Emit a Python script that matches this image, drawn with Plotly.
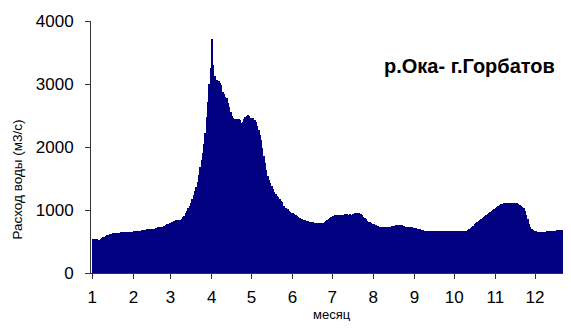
import plotly.graph_objects as go

# Daily discharge (m3/s), one list per month
jan = [540,540,540,540,530,530,540,555,570,570,580,600,610,620,625,630,633,633,635,635,
       640,643,643,645,645,645,648,650,652,655,658]
feb = [660,660,663,665,670,672,676,681,685,690,695,700,702,702,705,705,705,720,723,723,
       725,725,728,750,768,775,785,792]
mar = [800,810,820,830,834,836,838,845,865,885,910,945,990,1030,1060,1110,1170,1240,1300,1370,
       1440,1560,1690,1800,1900,2050,2220,2480,2720,3000,3250]
apr = [3720,3300,3120,3070,3060,3050,3020,2985,2880,2840,2800,2770,2700,2630,2560,2500,2455,2440,2440,2440,
       2440,2430,2380,2400,2450,2480,2500,2510,2490,2460]
may = [2455,2455,2430,2400,2330,2270,2190,2110,1980,1850,1740,1640,1540,1480,1430,1380,1330,1280,1250,1225,
       1205,1180,1150,1120,1070,1035,1030,1010,990,975,960]
jun = [945,930,920,905,890,875,865,855,845,835,828,820,812,805,802,802,800,800,800,800,
       795,790,786,795,810,830,845,860,871,890]
jul = [905,910,915,920,923,925,925,928,928,930,925,930,928,930,928,935,940,948,950,950,
       945,935,915,890,870,850,830,815,802,790,778]
aug = [770,765,755,745,735,728,728,728,726,728,728,730,730,735,740,745,749,755,760,765,
       765,760,752,745,738,735,732,730,725,723,720]
sep = [715,710,705,702,695,685,675,670,670,668,670,670,670,672,670,670,670,668,670,670,
       670,670,672,670,670,670,670,670,668,670]
oct_ = [670,670,670,668,670,670,670,670,670,672,680,695,710,725,745,770,790,805,818,840,
        855,870,885,897,915,935,955,976,990,1005,1020]
nov = [1030,1045,1060,1075,1090,1100,1109,1110,1110,1110,1110,1110,1110,1110,1110,1108,1105,1095,1085,1070,
       1050,1030,990,920,850,780,735,700,680,670]
dec = [660,650,645,643,643,643,643,645,655,665,670,670,670,670,670,672,680,686,686,686,
       686,688,690,705,730,760,792,810,820,830,840]

months = [jan, feb, mar, apr, may, jun, jul, aug, sep, oct_, nov, dec]
month_labels = ["1","2","3","4","5","6","7","8","9","10","11","12"]

values = [v for m in months for v in m]
days = list(range(len(values)))
month_starts = []
acc = 0
for m in months:
    month_starts.append(acc)
    acc += len(m)

fig = go.Figure(go.Bar(
    x=[d + 0.5 for d in days], y=values, width=1.0,
    marker=dict(color="#000080", line=dict(width=0)),
    hoverinfo="skip",
))

font_family = "Liberation Sans, Arial, sans-serif"

fig.update_layout(
    width=555, height=313,
    margin=dict(l=83, r=0, t=13, b=48),
    paper_bgcolor="white", plot_bgcolor="white",
    showlegend=False, bargap=0,
    font=dict(family=font_family, color="black"),
    xaxis=dict(
        range=[-1, 355.1], tickmode="array", tickvals=month_starts, ticktext=month_labels,
        ticks="outside", ticklen=5, tickcolor="#333", showline=True, linecolor="#333",
        linewidth=1, showgrid=False, zeroline=False, tickfont=dict(size=17),
        ticklabelstandoff=4,
    ),
    yaxis=dict(
        range=[0, 4000], tickvals=[0, 1000, 2000, 3000, 4000],
        ticks="outside", ticklen=5, tickcolor="#333", showline=True, linecolor="#333",
        linewidth=1, showgrid=False, zeroline=False, tickfont=dict(size=17),
        ticklabelstandoff=8,
    ),
    annotations=[
        dict(text="р.Ока- г.Горбатов", x=0.987, y=0.821, xref="paper", yref="paper",
             xanchor="right", yanchor="middle", showarrow=False,
             font=dict(size=20, family=font_family, color="black", weight="bold")),
        dict(text="Расход воды (м3/с)", x=-0.155, y=0.37, xref="paper", yref="paper",
             xanchor="center", yanchor="middle", textangle=-90, showarrow=False,
             font=dict(size=13.5, family=font_family, color="black")),
        dict(text="месяц", x=0.51, y=-0.165, xref="paper", yref="paper",
             xanchor="center", yanchor="middle", showarrow=False,
             font=dict(size=13, family=font_family, color="black")),
    ],
)

fig.write_html("out.html")
